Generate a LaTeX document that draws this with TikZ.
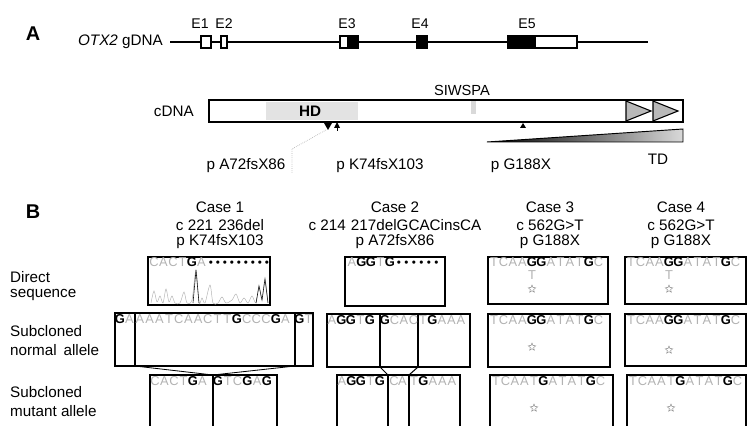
\documentclass[tikz,border=0pt]{standalone}
\usepackage{fontspec}
\setmainfont{Liberation Sans}
\usetikzlibrary{shapes.geometric, arrows.meta}

\def\nucG{G}
\newcommand{\nuc}[1]{\edef\nucarg{#1}\ifx\nucarg\nucG\textbf{G}\else\textcolor{gray!60}{#1}\fi}
\newcommand{\seqrow}[5]{\foreach \ltr [count=\i from 0] in {#5} {\node [nt] (#1-\i) at ({#2+\i*#3},#4) {\nuc{\ltr}};}}
\newcommand{\dotrow}[5]{\foreach \i in {1,...,#5} {\node [dt] (#1-\i) at ({#2+(\i-1)*#3},#4) {\textbullet};}}

\begin{document}
\begin{tikzpicture}[x=0.03cm,y=-0.03cm,
  lbl/.style={font=\fontsize{13}{13}\selectfont, inner sep=0pt},
  sml/.style={font=\fontsize{12}{12}\selectfont, inner sep=0pt},
  nt/.style={font=\fontsize{11}{11}\selectfont, anchor=base, inner sep=0pt},
  dt/.style={font=\fontsize{10}{10}\selectfont, anchor=base, inner sep=0pt},
  seqbox/.style={line width=1.4pt},
  exon/.style={line width=1pt},
  pstar/.style={star, star points=5, star point ratio=2.3, draw=gray, inner sep=0pt, minimum size=2.4mm, line width=0.35pt}]
\useasboundingbox (0,0) rectangle (748,426);
\clip (0,0) rectangle (748,426);

\node [font=\fontsize{17}{17}\selectfont\bfseries] (labA) at (33,34) {A};
\node [lbl, anchor=east] (gdna) at (163,42) {\textit{OTX2} gDNA};
\draw [line width=1pt] (170,42) -- (648,42);
\draw [exon, fill=white] (201,36) rectangle (211,48);
\draw [exon, fill=white] (221,36) rectangle (227,48);
\draw [exon, fill=white] (340,36) rectangle (358,48);
\fill (347,36) rectangle (358,48);
\draw [exon, fill=black] (417,36) rectangle (427,48);
\draw [exon, fill=white] (508,36) rectangle (577,48);
\fill (508,36) rectangle (536,48);
\node [sml] (e1) at (200,24) {E1};
\node [sml] (e2) at (224,24) {E2};
\node [sml] (e3) at (347,24) {E3};
\node [sml] (e4) at (420,24) {E4};
\node [sml] (e5) at (527,24) {E5};

\fill [gray!22] (266,102) rectangle (358,120);
\fill [gray!30] (471,101) rectangle (476,114);
\draw [line width=1pt] (209,100) rectangle (683,122);
\draw [fill=gray!55, line width=0.9pt] (626,101) -- (651,111) -- (626,121) -- cycle;
\draw [fill=gray!55, line width=0.9pt] (653,101) -- (678,111) -- (653,121) -- cycle;
\node [lbl, anchor=east] (cdna) at (194,111) {cDNA};
\node [lbl, font=\fontsize{13}{13}\selectfont\bfseries] (hd) at (310,111) {HD};
\node [lbl, font=\fontsize{12.5}{12.5}\selectfont] (siwspa) at (462,90) {SIWSPA};
\fill (324,123) -- (332,123) -- (328,130) -- cycle;
\fill (334,128) -- (340,128) -- (337,122) -- cycle;
\draw [line width=0.6pt] (337,127) -- (337,131);
\fill (520,128) -- (526,128) -- (523,123) -- cycle;
\coordinate (mA) at (326,130);
\coordinate (bendA) at (292,149);
\coordinate (endA) at (292,173);
\draw [gray!60, densely dotted, line width=0.6pt] (mA) -- (bendA) -- (endA);
\shade [left color=black, right color=gray!30] (487,142) -- (683,129) -- (683,142) -- cycle;
\draw [line width=0.8pt] (487,142) -- (683,129) -- (683,142) -- cycle;
\node [lbl] (td) at (658,159) {TD};
\node [lbl] (pA) at (246,166) {p A72fsX86};
\node [lbl] (pK) at (380,166) {p K74fsX103};
\node [lbl] (pG) at (521,166) {p G188X};

\node [font=\fontsize{17}{17}\selectfont\bfseries] (labB) at (33,212) {B};
\node [lbl] (c1a) at (220,207) {Case 1};
\node [lbl] (c1b) at (220,225) {c 221\,\,236del};
\node [lbl] (c1c) at (220,242) {p K74fsX103};
\node [lbl] (c2a) at (395,207) {Case 2};
\node [lbl] (c2b) at (395,225) {c 214\,\,217delGCACinsCA};
\node [lbl] (c2c) at (395,242) {p A72fsX86};
\node [lbl] (c3a) at (550,207) {Case 3};
\node [lbl] (c3b) at (550,225) {c 562G>T};
\node [lbl] (c3c) at (550,242) {p G188X};
\node [lbl] (c4a) at (681,207) {Case 4};
\node [lbl] (c4b) at (681,225) {c 562G>T};
\node [lbl] (c4c) at (681,242) {p G188X};

\node [lbl, anchor=west] (rd1) at (10,277) {Direct};
\node [lbl, anchor=west] (rd2) at (10,295) {sequence};
\node [lbl, anchor=west] (rn1) at (10,331) {Subcloned};
\node [lbl, anchor=west] (rn2) at (10,350) {normal\, allele};
\node [lbl, anchor=west] (rm1) at (10,392) {Subcloned};
\node [lbl, anchor=west] (rm2) at (10,411) {mutant allele};

\draw [seqbox] (148,257) rectangle (270,305);
\seqrow{d1}{154}{9.5}{267}{C,A,C,T,G,A}
\dotrow{d1b}{211}{7}{267}{9}
\draw [gray!60, line width=0.4pt] plot [smooth, tension=0.5] coordinates {(151,303) (154,291) (157,302) (160,296) (163,303) (166,289) (169,302) (172,296) (175,303) (180,303) (184,292) (187,303) (192,300) (196,270) (199,303) (202,298) (205,303) (210,285) (213,303) (218,303) (222,297) (226,303) (232,300) (236,294) (240,303) (244,298) (248,303) (252,296) (256,303) (259,286) (262,300) (265,279) (268,303)};
\draw [gray!20!black, line width=0.5pt] (193,303) -- (196,270) -- (199,303);
\draw [gray!20!black, line width=0.5pt] (256,303) -- (259,286) -- (262,300) -- (265,279) -- (268,303);

\draw [seqbox] (345,257) rectangle (445,306);
\seqrow{d2}{352}{9.5}{267}{A,G,G,T,G}
\dotrow{d2b}{399}{7.5}{267}{6}

\draw [seqbox] (488,257) rectangle (608,304);
\seqrow{d3}{494}{9.5}{267}{T,C,A,A,G,G,A,T,A,T,G,C}
\node [nt] (d3t) at (532,280) {\nuc{T}};
\node [pstar] (d3s) at (532,289) {};

\draw [seqbox] (625,257) rectangle (746,304);
\seqrow{d4}{631}{9.5}{267}{T,C,A,A,G,G,A,T,A,T,G,C}
\node [nt] (d4t) at (669,280) {\nuc{T}};
\node [pstar] (d4s) at (669,289) {};

\draw [seqbox] (115,313) rectangle (313,366);
\draw [seqbox] (135,313) -- (135,366);
\draw [seqbox] (295,313) -- (295,366);
\seqrow{n1a}{120}{9.5}{323}{G,A}
\seqrow{n1b}{140}{9.7}{323}{A,A,A,T,C,A,A,C,T,T,G,C,C,C,G,A}
\seqrow{n1c}{299.5}{9}{323}{G,T}

\draw [seqbox] (327,314) rectangle (470,367);
\draw [seqbox] (380,314) -- (380,367);
\draw [seqbox] (418,314) -- (418,367);
\seqrow{n2a}{332}{9.5}{324}{A,G,G,T,G}
\seqrow{n2b}{385}{9.5}{324}{G,C,A,C}
\seqrow{n2c}{423}{9.5}{324}{T,G,A,A,A}

\draw [seqbox] (488,314) rectangle (610,367);
\seqrow{n3}{494}{9.5}{324}{T,C,A,A,G,G,A,T,A,T,G,C}
\node [pstar] (n3s) at (532,347) {};

\draw [seqbox] (625,314) rectangle (746,366);
\seqrow{n4}{631}{9.5}{324}{T,C,A,A,G,G,A,T,A,T,G,C}
\node [pstar] (n4s) at (669,350) {};

\draw [seqbox] (150,440) -- (150,375) -- (277,375) -- (277,440);
\draw [seqbox] (213,375) -- (213,440);
\seqrow{m1a}{155}{9.5}{385}{C,A,C,T,G,A}
\seqrow{m1b}{218}{9.8}{385}{G,T,C,G,A,G}
\coordinate (n1L) at (135,366);
\coordinate (n1R) at (295,366);
\coordinate (m1J) at (213,375);
\draw [line width=0.7pt] (n1L) -- (m1J) -- (n1R);

\draw [seqbox] (337,440) -- (337,375) -- (460,375) -- (460,440);
\draw [seqbox] (388,375) -- (388,440);
\draw [seqbox] (409,375) -- (409,440);
\seqrow{m2a}{342}{9.5}{385}{A,G,G,T,G}
\seqrow{m2b}{394}{8.5}{385}{C,A}
\seqrow{m2c}{414}{9.5}{385}{T,G,A,A,A}
\coordinate (n2L) at (380,367);
\coordinate (n2R) at (418,367);
\coordinate (m2L) at (388,375);
\coordinate (m2R) at (409,375);
\draw [line width=0.9pt] (n2L) -- (m2L);
\draw [line width=0.9pt] (n2R) -- (m2R);

\draw [seqbox] (490,440) -- (490,375) -- (613,375) -- (613,440);
\seqrow{m3}{496}{9.5}{385}{T,C,A,A,T,G,A,T,A,T,G,C}
\node [pstar] (m3s) at (534,408) {};

\draw [seqbox] (627,440) -- (627,375) -- (746,375) -- (746,440);
\seqrow{m4}{633}{9.5}{385}{T,C,A,A,T,G,A,T,A,T,G,C}
\node [pstar] (m4s) at (671,408) {};
\end{tikzpicture}
\end{document}
